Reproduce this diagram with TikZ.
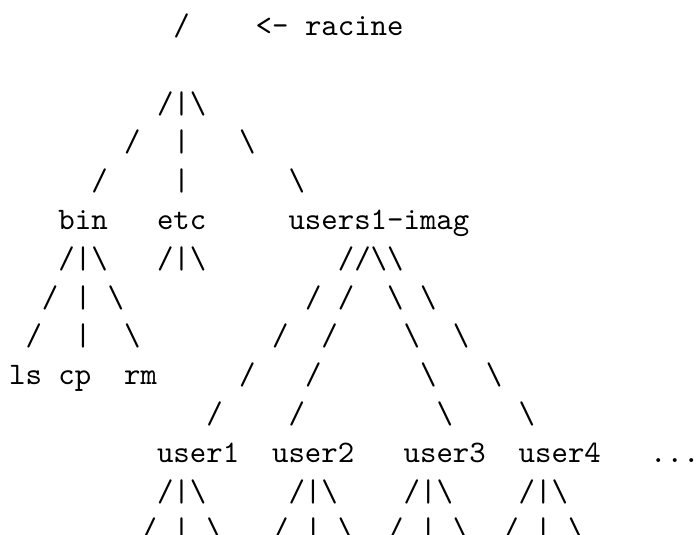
\documentclass[tikz,border=0pt]{standalone}
\usepackage{fontspec}
\newfontfamily\ttten{lmmono10-regular.otf}
\newcommand{\bsl}{\textbackslash}
\tikzset{txt/.style={inner sep=0pt, outer sep=0pt, anchor=base west,
  font=\fontsize{31.3pt}{38.8pt}\selectfont\ttten}}
\newcommand{\cell}[4]{\node[txt] (#1) at ({9.08pt+16.44pt*#2},{-35.5pt-38.8pt*(#3-1)}) {#4};}
\begin{document}
\begin{tikzpicture}
\fill[white] (0,0) rectangle (697pt,-535pt);
\useasboundingbox (0,0) rectangle (697pt,-535pt);
% row 1
\cell{root}{10}{1}{/}
\cell{arrow}{15}{1}{<-}
\cell{racine}{18}{1}{racine}
% row 3
\cell{rA}{9}{3}{/|\bsl}
% row 4
\cell{rBa}{7}{4}{/}
\cell{rBb}{10}{4}{|}
\cell{rBc}{14}{4}{\bsl}
% row 5
\cell{rCa}{5}{5}{/}
\cell{rCb}{10}{5}{|}
\cell{rCc}{17}{5}{\bsl}
% row 6
\cell{bin}{3}{6}{bin}
\cell{etc}{9}{6}{etc}
\cell{users}{17}{6}{users1-imag}
% row 7
\cell{binA}{3}{7}{/|\bsl}
\cell{etcA}{9}{7}{/|\bsl}
\cell{usA}{20}{7}{//\bsl\bsl}
% row 8
\cell{binBa}{2}{8}{/}
\cell{binBb}{4}{8}{|}
\cell{binBc}{6}{8}{\bsl}
\cell{usBa}{18}{8}{/}
\cell{usBb}{20}{8}{/}
\cell{usBc}{23}{8}{\bsl}
\cell{usBd}{25}{8}{\bsl}
% row 9
\cell{binCa}{1}{9}{/}
\cell{binCb}{4}{9}{|}
\cell{binCc}{7}{9}{\bsl}
\cell{usCa}{16}{9}{/}
\cell{usCb}{19}{9}{/}
\cell{usCc}{24}{9}{\bsl}
\cell{usCd}{27}{9}{\bsl}
% row 10
\cell{ls}{0}{10}{ls}
\cell{cp}{3}{10}{cp}
\cell{rm}{7}{10}{rm}
\cell{usDa}{14}{10}{/}
\cell{usDb}{18}{10}{/}
\cell{usDc}{25}{10}{\bsl}
\cell{usDd}{29}{10}{\bsl}
% row 11
\cell{usEa}{12}{11}{/}
\cell{usEb}{17}{11}{/}
\cell{usEc}{26}{11}{\bsl}
\cell{usEd}{31}{11}{\bsl}
% row 12
\cell{uA}{9}{12}{user1}
\cell{uB}{16}{12}{user2}
\cell{uC}{24}{12}{user3}
\cell{uD}{31}{12}{user4}
\cell{dots}{39}{12}{...}
% row 13
\cell{uAa}{9}{13}{/|\bsl}
\cell{uBa}{17}{13}{/|\bsl}
\cell{uCa}{24}{13}{/|\bsl}
\cell{uDa}{31}{13}{/|\bsl}
% row 14
\cell{uAb1}{8}{14}{/}
\cell{uAb2}{10}{14}{|}
\cell{uAb3}{12}{14}{\bsl}
\cell{uBb1}{16}{14}{/}
\cell{uBb2}{18}{14}{|}
\cell{uBb3}{20}{14}{\bsl}
\cell{uCb1}{23}{14}{/}
\cell{uCb2}{25}{14}{|}
\cell{uCb3}{27}{14}{\bsl}
\cell{uDb1}{30}{14}{/}
\cell{uDb2}{32}{14}{|}
\cell{uDb3}{34}{14}{\bsl}
\end{tikzpicture}
\end{document}
